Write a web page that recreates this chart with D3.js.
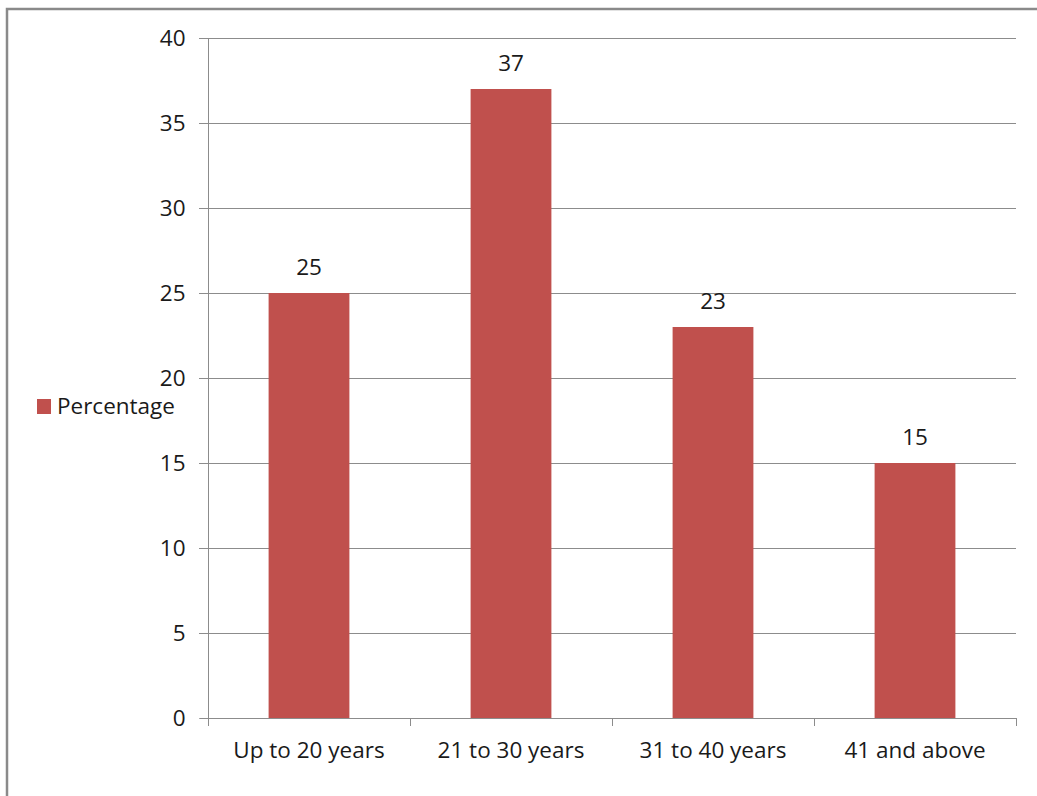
<!DOCTYPE html>
<html>
<head>
<meta charset="utf-8">
<script src="https://cdn.jsdelivr.net/npm/d3@7"></script>
<style>
  html, body { margin: 0; padding: 0; background: #fff; }
  svg { display: block; }
  text { font-family: "Open Sans", Lato, sans-serif; fill: #1a1a1a; }
</style>
</head>
<body>
<svg id="chart" width="1037" height="796"></svg>
<script>
// Age group shares (%)
const categories = ["Up to 20 years", "21 to 30 years", "31 to 40 years", "41 and above"];
const percentages = [25, 37, 23, 15];
const yTicks = [0, 5, 10, 15, 20, 25, 30, 35, 40];
const seriesName = "Percentage";

const barColor = "#C0504D";
const gridColor = "#8c8c8c";
const fontSize = 22.5;

const svg = d3.select("#chart");

// Outer frame (top and left edges)
svg.append("path")
  .attr("d", "M7,800 L7,9 L1040,9")
  .attr("fill", "none")
  .attr("stroke", "#8a8a8a")
  .attr("stroke-width", 2.5);

const plot = { left: 208, right: 1016, top: 38, bottom: 718 };

const x = d3.scaleBand()
  .domain(categories)
  .range([plot.left, plot.right])
  .paddingInner(0.6)
  .paddingOuter(0.3);

const xOuter = d3.scaleBand()
  .domain(categories)
  .range([plot.left, plot.right]);

const y = d3.scaleLinear()
  .domain([0, 40])
  .range([plot.bottom, plot.top]);

// Horizontal gridlines with left tick stubs
svg.append("g")
  .selectAll("line")
  .data(yTicks.filter(t => t > 0))
  .join("line")
  .attr("x1", plot.left - 9)
  .attr("x2", plot.right)
  .attr("y1", d => Math.round(y(d)) + 0.5)
  .attr("y2", d => Math.round(y(d)) + 0.5)
  .attr("stroke", gridColor)
  .attr("stroke-width", 1);

// Y axis
const yAxis = svg.append("g")
  .attr("transform", `translate(${plot.left + 0.5},0)`)
  .call(d3.axisLeft(y).tickValues(yTicks).tickSize(9).tickPadding(14));
yAxis.select(".domain").attr("stroke", gridColor).attr("d", `M-9,${plot.top + 0.5}H0V${plot.bottom + 0.5}H-9`);
yAxis.selectAll(".tick line").attr("stroke", gridColor);
yAxis.selectAll(".tick text")
  .attr("font-size", fontSize)
  .attr("font-family", "'Open Sans', Lato, sans-serif")
  .attr("fill", "#1a1a1a");

// Bars
svg.append("g")
  .selectAll("rect")
  .data(percentages)
  .join("rect")
  .attr("x", (d, i) => x(categories[i]))
  .attr("width", x.bandwidth())
  .attr("y", d => y(d))
  .attr("height", d => y(0) - y(d))
  .attr("fill", barColor);

// X axis with ticks at category boundaries
const boundaries = categories.map(c => xOuter(c)).concat([plot.right]);
svg.append("line")
  .attr("x1", plot.left)
  .attr("x2", plot.right)
  .attr("y1", plot.bottom + 0.5)
  .attr("y2", plot.bottom + 0.5)
  .attr("stroke", gridColor);
svg.append("g")
  .selectAll("line")
  .data(boundaries)
  .join("line")
  .attr("x1", d => Math.round(d) + 0.5)
  .attr("x2", d => Math.round(d) + 0.5)
  .attr("y1", plot.bottom)
  .attr("y2", plot.bottom + 8)
  .attr("stroke", gridColor);

svg.append("g")
  .selectAll("text")
  .data(categories)
  .join("text")
  .attr("x", d => xOuter(d) + xOuter.bandwidth() / 2)
  .attr("y", 758)
  .attr("text-anchor", "middle")
  .attr("font-size", fontSize)
  .text(d => d);

// Value labels
svg.append("g")
  .selectAll("text")
  .data(percentages)
  .join("text")
  .attr("x", (d, i) => x(categories[i]) + x.bandwidth() / 2)
  .attr("y", d => y(d) - 18)
  .attr("text-anchor", "middle")
  .attr("font-size", fontSize)
  .text(d => d);

// Legend
const legend = svg.append("g").attr("transform", "translate(37,399)");
legend.append("rect")
  .attr("width", 14)
  .attr("height", 15)
  .attr("fill", barColor);
legend.append("text")
  .attr("x", 20)
  .attr("y", 15)
  .attr("font-size", fontSize)
  .text(seriesName);
</script>
</body>
</html>
